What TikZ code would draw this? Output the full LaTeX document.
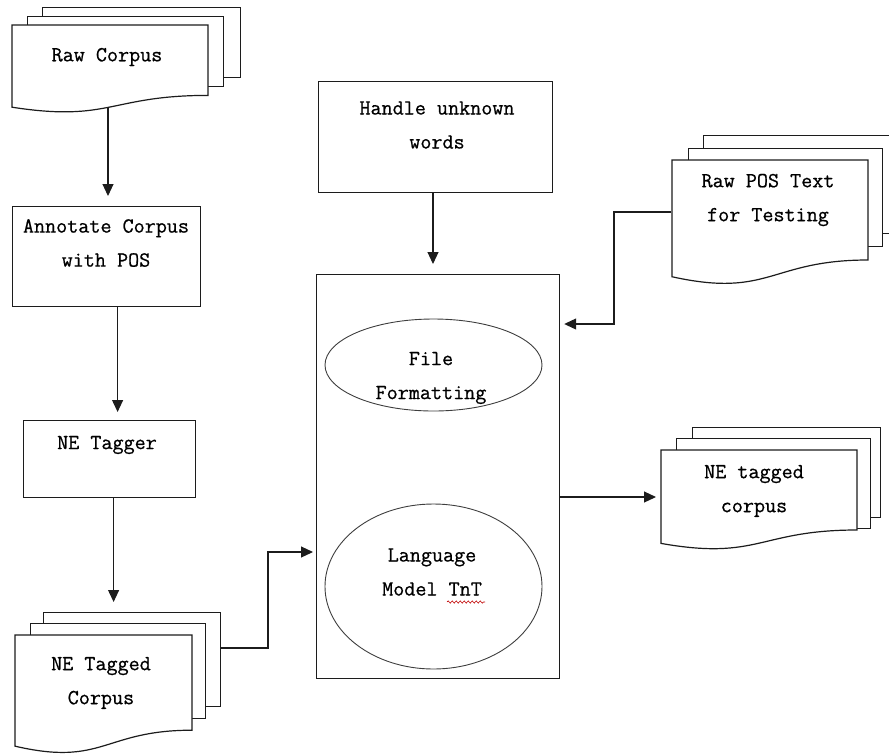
\documentclass[tikz,border=0pt]{standalone}
\usepackage{fontspec}
\setmonofont[FakeBold=0.7]{Latin Modern Mono}
\usetikzlibrary{arrows.meta,shapes.geometric,decorations.pathmorphing}

% front sheet of a stacked-document symbol: left x, top y, width, height
\newcommand\docfront[4]{%
  \draw[page] (#1,#2) -- ({#1+#3},#2) -- ({#1+#3},{#2+0.80*#4})
    .. controls ({#1+0.5*#3},{#2+0.80*#4}) and ({#1+0.5*#3},{#2+1.107*#4}) ..
    (#1,{#2+0.934*#4}) -- cycle;}

\definecolor{ink}{HTML}{1C1C1C}

\begin{document}
\begin{tikzpicture}[x=1pt,y=-1pt,
  line width=1.1pt, draw=ink,
  page/.style={draw=ink, fill=white, line width=1.2pt},
  sheet/.style={page, anchor=north west, inner sep=0pt},
  procbox/.style={draw=ink, line width=1.2pt, anchor=north west, inner sep=0pt},
  oval/.style={draw=ink!85, ellipse, line width=0.9pt, inner sep=0pt},
  lbl/.style={align=center, inner sep=0pt, text=black,
    font=\ttfamily\fontsize{21.5}{34}\selectfont},
  flow/.style={draw=ink, line width=1.1pt, -{Triangle[length=12pt,width=11pt]}},
]
\useasboundingbox (0,0) rectangle (889,753);
\clip (0,0) rectangle (889,753);

% ---------- Raw Corpus ----------
\node[sheet, minimum width=198pt, minimum height=70pt] (rcB3) at (42,7) {};
\node[sheet, minimum width=196pt, minimum height=70pt] (rcB2) at (27,16) {};
\docfront{12}{25}{196}{88}
\node[lbl] (rc) at (107,57) {Raw Corpus};
\coordinate (rcOut) at (108,107);

% ---------- Annotate Corpus with POS ----------
\node[procbox, minimum width=188pt, minimum height=100pt] (ann) at (12,206) {};
\node[lbl] (annT) at (106,243) {Annotate Corpus\\with POS};

% ---------- NE Tagger ----------
\node[procbox, minimum width=172pt, minimum height=77pt] (tag) at (23,420) {};
\node[lbl] (tagT) at (107,445) {NE Tagger};

% ---------- NE Tagged Corpus ----------
\node[sheet, minimum width=177pt, minimum height=94pt] (ntcB3) at (43,612) {};
\node[sheet, minimum width=175pt, minimum height=95pt] (ntcB2) at (30,623) {};
\docfront{15}{635}{177}{119}
\node[lbl] (ntc) at (101,683) {NE Tagged\\Corpus};

% ---------- Handle unknown words ----------
\node[procbox, minimum width=234pt, minimum height=111pt] (huw) at (318,81) {};
\node[lbl] (huwT) at (437,125) {Handle unknown\\words};

% ---------- central model box ----------
\node[procbox, minimum width=243pt, minimum height=404pt] (main) at (316,274) {};
\node[oval, minimum width=217pt, minimum height=92pt] (ff) at (433.5,365) {};
\node[lbl] (ffT) at (431,378) {File\\Formatting};
\node[oval, minimum width=217pt, minimum height=165pt] (lm) at (433.5,586.5) {};
\node[lbl] (lmT) at (432,572) {Language\\Model TnT};
\draw[red!75!black, line width=0.6pt, decorate,
  decoration={snake, amplitude=1.1pt, segment length=4pt}] (447,602) -- (485,602);

% ---------- Raw POS Text for Testing ----------
\node[sheet, minimum width=196pt, minimum height=98pt] (rpB3) at (703,135) {};
\node[sheet, minimum width=194pt, minimum height=98pt] (rpB2) at (688,148) {};
\docfront{672}{160}{196}{125}
\node[lbl] (rp) at (768,200) {Raw POS Text\\for Testing};
\coordinate (rpIn) at (671,212);

% ---------- NE tagged corpus (output) ----------
\node[sheet, minimum width=188pt, minimum height=90pt] (ntB3) at (692,427) {};
\node[sheet, minimum width=194pt, minimum height=90pt] (ntB2) at (676,438) {};
\docfront{661}{450}{196}{100}
\node[lbl] (nt) at (754,491) {NE tagged\\corpus};
\coordinate (ntIn) at (661,497);

% ---------- connectors ----------
\draw[flow, shorten >=10pt] (rcOut) -- (rcOut |- ann.north);
\draw[flow, shorten >=8pt] ([xshift=11pt]ann.south) -- ([xshift=11pt]ann.south |- tag.north);
\draw[flow, shorten >=10pt] ([xshift=4pt]tag.south) -- ([xshift=4pt]tag.south |- ntcB3.north);
\draw[flow, shorten >=3pt] (ntcB3.east |- 0,648) -- (268,648) |- (main.west |- 0,552);
\draw[flow, shorten >=10pt] (huw.south -| 433,0) -- (main.north -| 433,0);
\draw[flow, shorten >=4pt] (rpIn) -- (614,212) |- (main.east |- 0,324);
\draw[flow, shorten >=5pt] (main.east |- 0,497) -- (ntIn);
\end{tikzpicture}
\end{document}
